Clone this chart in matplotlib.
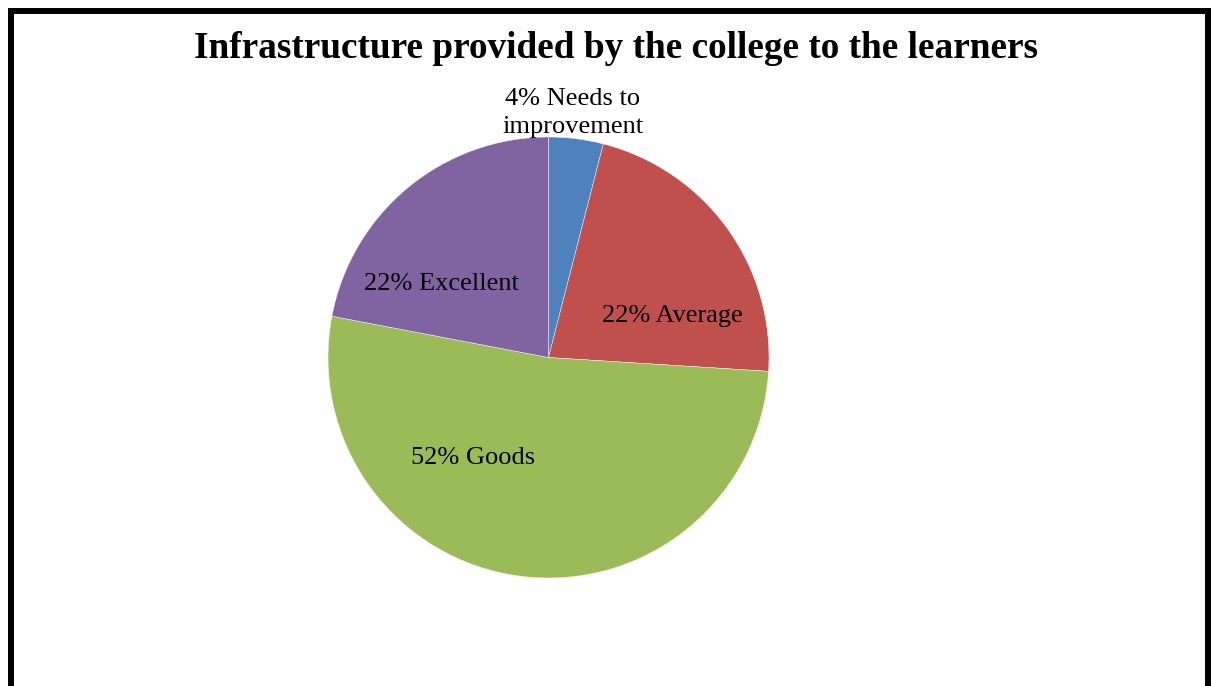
import numpy as np
import matplotlib
matplotlib.use("Agg")
import matplotlib.pyplot as plt
from matplotlib.patches import Rectangle

# chart data
categories = ["Needs to\nimprovement", "Average", "Goods", "Excellent"]
percents = [4, 22, 52, 22]
colors = ["#4F81BD", "#C0504D", "#9BBB59", "#8064A2"]
title = "Infrastructure provided by the college to the learners"

W, H = 1211, 686
plt.rcParams['font.family'] = ['Liberation Serif', 'DejaVu Serif']

fig = plt.figure(figsize=(W / 100, H / 100), dpi=100)
ax = fig.add_axes([0, 0, 1, 1])

# pie in pixel coordinates (y measured from bottom)
cx, cy, r = 548.5, H - 357.5, 220.5
ax.pie(percents, colors=colors, startangle=90, counterclock=False,
       center=(cx, cy), radius=r,
       wedgeprops=dict(edgecolor="white", linewidth=0.3))
ax.set_xlim(0, W)
ax.set_ylim(0, H)
ax.set_aspect('auto')
ax.axis('off')

# label positions (pixels, from top-left)
label_pos = [(573, 113), (672, 316), (473, 458), (441, 284)]
for cat, p, (lx, ly) in zip(categories, percents, label_pos):
    if "\n" in cat:
        first, rest = cat.split("\n", 1)
        txt = f"{p}% {first}\n{rest}"
    else:
        txt = f"{p}% {cat}"
    ax.text(lx, H - ly, txt, ha='center', va='center', fontsize=19,
            linespacing=1.3, color='black')

ax.text(616, H - 48, title, ha='center', va='center', fontsize=26.8,
        fontweight='bold', color='black')

# outer frame (bottom edge is cut off)
ax.add_patch(Rectangle((11, -30), 1197, H - 11 + 30, fill=False,
                       edgecolor='black', linewidth=4.3, clip_on=False))

fig.savefig("out.png", dpi=100)
